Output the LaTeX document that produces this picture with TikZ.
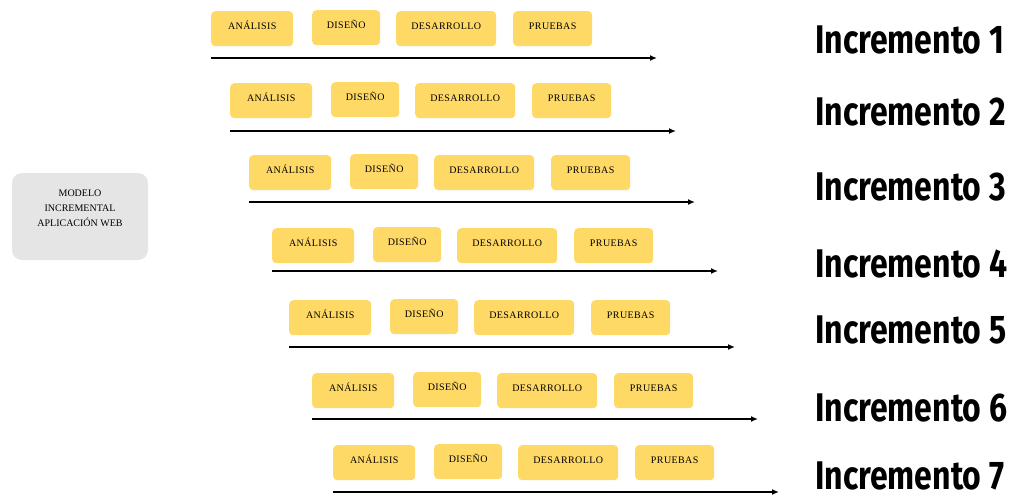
\documentclass[tikz,border=0pt]{standalone}
\usepackage{fontspec}
\setmainfont{Liberation Serif}
\newfontfamily\incfont{Fira Sans}
\usepackage{tikz}
\usetikzlibrary{arrows.meta}
\definecolor{amarillo}{HTML}{FFD966}
\definecolor{grisclaro}{HTML}{E5E5E5}
\tikzstyle{fase}   = [fill=amarillo, rounded corners=4pt, anchor=north west, minimum height=35pt, inner sep=0pt, text height=7pt, text depth=6pt, font=\fontsize{10}{12}\selectfont\addfontfeature{LetterSpace=4}]
\tikzstyle{flecha} = [line width=1.8pt, -{Latex[length=7pt,width=6pt]}]
\tikzstyle{inc}    = [anchor=west, inner sep=0pt, font=\incfont\bfseries\fontsize{40}{40}\selectfont]

\begin{document}
\begin{tikzpicture}[x=1pt, y=-1pt]
  \useasboundingbox (0,0) rectangle (1018,496);

  % Modelo
  \node[fill=grisclaro, rounded corners=10pt, minimum width=136pt, minimum height=87pt, inner sep=0pt,
        align=center, font=\fontsize{10}{15}\selectfont] (modelo) at (80,216.5)
        {MODELO\\INCREMENTAL\\APLICACIÓN WEB\\[2pt]};

  % Filas: indice / desplazamiento / arriba de cajas / flecha / etiqueta
  \foreach \i/\dx/\yt/\ya/\yl in {1/0/11/58/40, 2/19/83/131/112, 3/38/155/202/187,
                                  4/61/228/271/264, 5/78/300/347/330, 6/101/373/419/408,
                                  7/122/445/492/476}{
    \node[fase, minimum width=82pt]  (ana\i) at (211+\dx,\yt)   {ANÁLISIS};
    \node[fase, minimum width=68pt]  (dis\i) at (312+\dx,\yt-1) {DISEÑO};
    \node[fase, minimum width=100pt] (des\i) at (396+\dx,\yt)   {DESARROLLO};
    \node[fase, minimum width=79pt]  (pru\i) at (513+\dx,\yt)   {PRUEBAS};
    \coordinate (ini\i) at (211+\dx,\ya);
    \coordinate (fin\i) at (657+\dx,\ya);
    \draw[flecha] (ini\i) -- (fin\i);
    \node[inc] (inc\i) at (815,\yl) {\scalebox{0.8}[1]{Incremento \i}};
  }
\end{tikzpicture}
\end{document}
